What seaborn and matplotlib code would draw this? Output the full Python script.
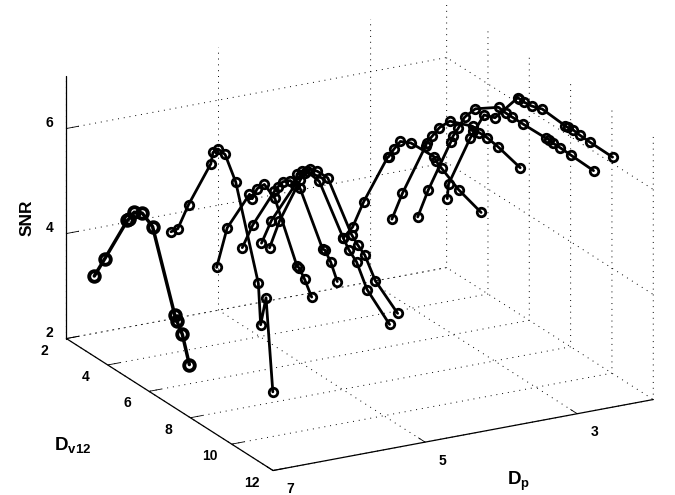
import matplotlib
matplotlib.use("Agg")
import matplotlib.pyplot as plt
import seaborn as sns

dp_curves = [7, 6, 5.5, 5, 4.75, 4.5, 3.75, 3.25, 2.5, 2.25]

dv_1 = [3.35, 3.86, 4.95, 5.03, 5.28, 5.67, 6.17, 7.24, 7.34, 7.61, 7.95]
snr_1 = [3.53, 3.99, 4.99, 5.04, 5.23, 5.31, 5.18, 3.77, 3.68, 3.49, 3.00]
dv_2 = [3.38, 3.71, 4.23, 5.31, 5.41, 5.66, 6.00, 6.51, 7.61, 7.72, 7.98, 8.31]
snr_2 = [4.11, 4.25, 4.84, 5.89, 6.13, 6.26, 6.24, 5.85, 4.19, 3.43, 4.01, 2.30]
dv_3 = [3.75, 4.26, 5.34, 5.47, 5.71, 6.06, 6.57, 7.63, 7.75, 8.01, 8.35]
snr_3 = [3.39, 4.27, 5.18, 5.13, 5.38, 5.55, 5.41, 4.40, 4.38, 4.23, 3.98]
dv_4 = [3.15, 3.66, 4.70, 4.86, 5.12, 5.47, 5.95, 7.04, 7.15, 7.43, 7.75]
snr_4 = [3.48, 4.04, 4.94, 5.06, 5.23, 5.34, 5.31, 4.43, 4.44, 4.28, 3.99]
dv_5 = [3.16, 3.64, 4.79, 4.88, 5.12, 5.36, 5.96, 7.12, 7.40, 7.76, 8.27, 9.36]
snr_5 = [3.50, 4.05, 5.02, 5.25, 5.36, 5.42, 5.38, 4.59, 4.43, 4.30, 3.90, 3.51]
dv_6 = [2.63, 3.11, 4.12, 4.36, 4.60, 4.95, 5.45, 6.60, 6.89, 7.24, 7.75, 8.83]
snr_6 = [3.21, 3.84, 4.88, 5.07, 5.21, 5.25, 5.25, 4.46, 4.34, 4.23, 3.87, 3.52]
dv_7 = [3.44, 3.89, 4.42, 5.58, 5.64, 5.88, 6.20, 6.71, 7.85, 7.93, 8.20, 9.02, 10.11]
snr_7 = [3.40, 3.72, 4.33, 5.47, 5.50, 5.70, 5.93, 6.03, 6.05, 5.99, 5.92, 5.72, 5.56]
dv_8 = [3.95, 4.46, 5.58, 5.64, 5.90, 6.25, 6.75, 7.86, 7.90, 8.18, 8.55, 9.08, 10.16]
snr_8 = [3.75, 4.37, 5.55, 5.63, 5.82, 6.07, 6.32, 6.50, 6.42, 6.46, 6.46, 6.42, 6.29]
dv_9 = [2.44, 2.95, 4.03, 4.14, 4.40, 4.71, 5.23, 6.35, 6.70, 7.02, 7.54, 8.66, 8.79, 8.99, 9.35, 9.84, 10.95]
snr_9 = [3.21, 3.85, 5.03, 5.17, 5.39, 5.68, 5.97, 6.28, 6.26, 6.26, 6.26, 6.27, 6.28, 6.26, 6.26, 6.25, 6.23]
dv_10 = [2.95, 3.01, 4.06, 4.73, 5.26, 6.35, 6.43, 6.67, 7.04, 7.55, 8.67, 8.77, 9.02, 9.35, 9.86, 10.95]
snr_10 = [3.62, 3.91, 5.05, 5.66, 5.74, 6.39, 6.40, 6.39, 6.41, 6.48, 6.44, 6.44, 6.46, 6.44, 6.43, 6.42]

dv_curves = [dv_1, dv_2, dv_3, dv_4, dv_5, dv_6, dv_7, dv_8, dv_9, dv_10]
snr_curves = [snr_1, snr_2, snr_3, snr_4, snr_5, snr_6, snr_7, snr_8, snr_9, snr_10]

dp_ticks = [7, 5, 3]
dv_ticks = [2, 4, 6, 8, 10, 12]
snr_ticks = [2, 4, 6]

sns.set_style("white")
plt.rcParams["font.family"] = ["Liberation Sans", "DejaVu Sans"]
plt.rcParams["font.weight"] = "bold"
plt.rcParams["text.color"] = "black"
plt.rcParams["xtick.color"] = "black"
plt.rcParams["ytick.color"] = "black"
plt.rcParams["mathtext.fontset"] = "custom"
plt.rcParams["mathtext.bf"] = "Liberation Sans:bold"
plt.rcParams["mathtext.rm"] = "Liberation Sans:bold"
palette = sns.color_palette(["#000000"])

W, H = 675, 495
S = 654
cx, cy = 351, 246.6
fig = plt.figure(figsize=(W / 100, H / 100), dpi=100)
ax = fig.add_axes([(cx - S / 2) / W, 1 - (cy + S / 2) / H, S / W, S / H], projection="3d")
ax.set_proj_type("ortho")
ax.view_init(elev=20.2, azim=61.6)
ax.set_box_aspect((0.995, 1, 0.644))
ax.set_xlim(2, 7, view_margin=0)
ax.set_ylim(2, 12, view_margin=0)
ax.set_zlim(2, 7, view_margin=0)
ax.patch.set_alpha(0)

for i, (dp, dv, snr) in enumerate(zip(dp_curves, dv_curves, snr_curves)):
    thick = i == 0
    ax.plot([dp] * len(dv), dv, snr, color=palette[0], lw=2.5 if thick else 2.0,
            marker="o", mfc="none", mec=palette[0],
            ms=7.6 if thick else 6.1, mew=2.8 if thick else 2.0)

ax.set_xticks(dp_ticks)
ax.set_yticks(dv_ticks)
ax.set_zticks(snr_ticks)
ax.tick_params(axis="x", labelsize=10, pad=8)
ax.tick_params(axis="y", labelsize=10, pad=6)
ax.tick_params(axis="z", labelsize=10, pad=-1)
for lab in ax.xaxis.get_ticklabels():
    lab.set_va("bottom")
    lab.set_ha("left")
for lab in ax.yaxis.get_ticklabels():
    lab.set_va("bottom")
for lab in ax.zaxis.get_ticklabels():
    lab.set_va("baseline")
    lab.set_ha("center")
for axis in (ax.xaxis, ax.yaxis, ax.zaxis):
    axis.pane.fill = False
    axis.pane.set_edgecolor("none")
    axis.line.set_color("black")
    axis.line.set_linewidth(0.9)
    axis._axinfo["grid"].update(color="black", linewidth=0.7, linestyle=(0, (1, 5)))
    axis._axinfo["tick"].update(outward_factor=0.4, inward_factor=0.0)
    axis._axinfo["tick"]["linewidth"] = {True: 0.6, False: 0.6}

fig.text(73 / W, 1 - 445 / H, r"$\mathbf{D_{v12}}$", fontsize=13.5, ha="center", va="center")
fig.text(519 / W, 1 - 481 / H, r"$\mathbf{D_{p}}$", fontsize=13.5, ha="center", va="center")
fig.text(27 / W, 1 - 218 / H, "SNR", fontsize=12.5, rotation=90, ha="center", va="center")

fig.savefig("out.png", dpi=100)
